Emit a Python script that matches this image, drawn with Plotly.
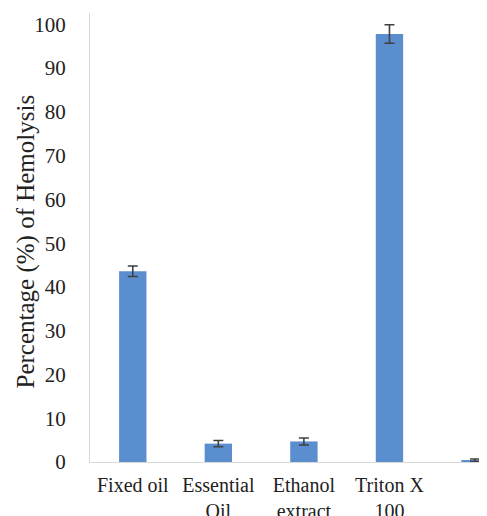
import plotly.graph_objects as go

categories = ["Fixed oil", "Essential<br>Oil", "Ethanol<br>extract", "Triton X<br>100", "PBS"]
hemolysis = [43.6, 4.2, 4.7, 97.8, 0.4]
errors = [1.2, 0.7, 0.8, 2.1, 0.3]
y_ticks = [0, 10, 20, 30, 40, 50, 60, 70, 80, 90, 100]

SERIF = "Times New Roman, Liberation Serif, serif"

fig = go.Figure()
fig.add_trace(go.Bar(
    x=list(range(len(categories))),
    y=hemolysis,
    width=0.32,
    marker=dict(color="#5A8ECF", line=dict(width=0)),
    error_y=dict(type="data", array=errors, visible=True,
                 color="#404040", thickness=1.6, width=5),
))

fig.update_layout(
    width=479, height=508,
    margin=dict(l=82, r=0, t=5, b=54, autoexpand=False),
    paper_bgcolor="white", plot_bgcolor="white",
    showlegend=False,
    font=dict(family=SERIF, color="#222222"),
    xaxis=dict(
        tickmode="array",
        tickvals=list(range(len(categories))),
        ticktext=categories,
        range=[-0.5, 4.14],
        showgrid=False, zeroline=False,
        showline=True, linecolor="#D9D9D9", linewidth=1,
        ticks="", automargin=False, ticklabelstandoff=5,
        tickfont=dict(size=20, family=SERIF, color="#222222"),
    ),
    yaxis=dict(
        range=[0, 102.6],
        tickmode="array", tickvals=y_ticks,
        showgrid=False, zeroline=False,
        showline=True, linecolor="#D9D9D9", linewidth=1,
        ticks="", ticklabelstandoff=19, automargin=False,
        tickfont=dict(size=21, family=SERIF, color="#222222"),
    ),
    annotations=[dict(
        text="Percentage (%) of Hemolysis",
        xref="paper", yref="paper", x=0, y=0.5,
        xanchor="center", yanchor="middle",
        xshift=-65, yshift=-4, textangle=-90, showarrow=False,
        font=dict(size=25, family=SERIF, color="#222222"),
    )],
)

fig.write_html("out.html")
